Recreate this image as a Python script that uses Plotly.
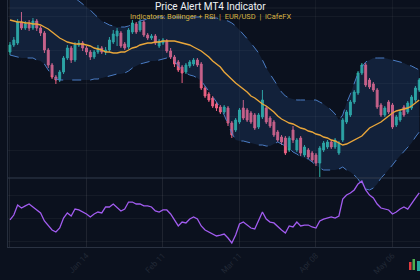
import plotly.graph_objects as go

# ---------------- data ----------------
idx = list(range(108))

open_ = [1.0994, 1.1015, 1.1021, 1.1084, 1.1066, 1.1078, 1.1066, 1.1087, 1.1066, 1.1051,
         1.1000, 1.0955, 1.0919, 1.0910, 1.0934, 1.0976, 1.1006, 1.0970, 1.1015, 1.1021,
         1.1006, 1.0994, 1.0979, 1.0994, 1.1006, 1.0994, 1.1000, 1.1024, 1.1042, 1.1051,
         1.1018, 1.1009, 1.1054, 1.1078, 1.1060, 1.1084, 1.1045, 1.1036, 1.1042, 1.1012,
         1.1021, 1.1027, 1.0997, 1.0979, 1.0964, 1.0949, 1.0934, 1.0952, 1.0958, 1.0970,
         1.0958, 1.0886, 1.0868, 1.0856, 1.0838, 1.0829, 1.0814, 1.0826, 1.0781, 1.0760,
         1.0784, 1.0826, 1.0820, 1.0811, 1.0805, 1.0769, 1.0799, 1.0826, 1.0796, 1.0784,
         1.0754, 1.0739, 1.0736, 1.0700, 1.0760, 1.0700, 1.0736, 1.0685, 1.0700, 1.0691,
         1.0685, 1.0661, 1.0700, 1.0709, 1.0724, 1.0709, 1.0691, 1.0730, 1.0784, 1.0805,
         1.0844, 1.0871, 1.0931, 1.0955, 1.0910, 1.0898, 1.0880, 1.0835, 1.0805, 1.0844,
         1.0835, 1.0775, 1.0790, 1.0829, 1.0814, 1.0826, 1.0850, 1.0880]

high = [1.1024, 1.1039, 1.1093, 1.1114, 1.1087, 1.1090, 1.1096, 1.1093, 1.1072, 1.1057,
        1.1006, 1.0961, 1.0925, 1.0940, 1.0982, 1.1015, 1.1012, 1.1024, 1.1030, 1.1027,
        1.1012, 1.1000, 1.1000, 1.1015, 1.1012, 1.1009, 1.1039, 1.1060, 1.1066, 1.1057,
        1.1024, 1.1066, 1.1090, 1.1084, 1.1093, 1.1090, 1.1051, 1.1048, 1.1048, 1.1033,
        1.1036, 1.1033, 1.1006, 1.0985, 1.0970, 1.0955, 1.0961, 1.0970, 1.0976, 1.0976,
        1.0964, 1.0892, 1.0874, 1.0862, 1.0844, 1.0835, 1.0835, 1.0832, 1.0787, 1.0796,
        1.0826, 1.0850, 1.0826, 1.0817, 1.0811, 1.0811, 1.0880, 1.0832, 1.0802, 1.0790,
        1.0760, 1.0745, 1.0742, 1.0742, 1.0772, 1.0736, 1.0742, 1.0715, 1.0706, 1.0697,
        1.0691, 1.0712, 1.0727, 1.0730, 1.0730, 1.0736, 1.0727, 1.0796, 1.0820, 1.0850,
        1.0880, 1.0937, 1.0961, 1.0961, 1.0916, 1.0904, 1.0886, 1.0841, 1.0832, 1.0850,
        1.0841, 1.0805, 1.0820, 1.0835, 1.0847, 1.0865, 1.0892, 1.0916]

low = [1.0985, 1.1009, 1.1015, 1.1060, 1.1060, 1.1057, 1.1060, 1.1057, 1.1042, 1.0991,
       1.0946, 1.0913, 1.0898, 1.0904, 1.0928, 1.0970, 1.0961, 1.0964, 1.1009, 1.0997,
       1.0985, 1.0970, 1.0973, 1.0988, 1.0988, 1.0985, 1.0994, 1.1018, 1.1012, 1.1006,
       1.1000, 1.1003, 1.1048, 1.1048, 1.1054, 1.1039, 1.1030, 1.1030, 1.1015, 1.1006,
       1.1015, 1.0991, 1.0973, 1.0949, 1.0934, 1.0901, 1.0928, 1.0946, 1.0952, 1.0949,
       1.0880, 1.0856, 1.0844, 1.0826, 1.0817, 1.0808, 1.0808, 1.0772, 1.0736, 1.0754,
       1.0778, 1.0790, 1.0784, 1.0778, 1.0760, 1.0763, 1.0793, 1.0778, 1.0766, 1.0739,
       1.0724, 1.0715, 1.0685, 1.0694, 1.0721, 1.0694, 1.0682, 1.0679, 1.0673, 1.0664,
       1.0652, 1.0619, 1.0694, 1.0703, 1.0703, 1.0703, 1.0685, 1.0724, 1.0778, 1.0799,
       1.0838, 1.0865, 1.0925, 1.0889, 1.0883, 1.0874, 1.0823, 1.0799, 1.0799, 1.0808,
       1.0763, 1.0769, 1.0784, 1.0799, 1.0808, 1.0820, 1.0844, 1.0874]

close = [1.1015, 1.1030, 1.1084, 1.1066, 1.1078, 1.1066, 1.1087, 1.1066, 1.1051, 1.1000,
         1.0955, 1.0919, 1.0910, 1.0934, 1.0976, 1.1006, 1.0970, 1.1015, 1.1021, 1.1006,
         1.0994, 1.0979, 1.0994, 1.1006, 1.0994, 1.1000, 1.1030, 1.1048, 1.1057, 1.1012,
         1.1006, 1.1060, 1.1081, 1.1054, 1.1084, 1.1045, 1.1036, 1.1042, 1.1021, 1.1027,
         1.1030, 1.0997, 1.0979, 1.0958, 1.0940, 1.0931, 1.0955, 1.0964, 1.0970, 1.0955,
         1.0886, 1.0862, 1.0850, 1.0832, 1.0826, 1.0814, 1.0829, 1.0781, 1.0745, 1.0790,
         1.0820, 1.0796, 1.0790, 1.0784, 1.0766, 1.0805, 1.0850, 1.0784, 1.0772, 1.0745,
         1.0730, 1.0724, 1.0691, 1.0736, 1.0730, 1.0730, 1.0691, 1.0709, 1.0679, 1.0670,
         1.0661, 1.0706, 1.0721, 1.0724, 1.0709, 1.0730, 1.0721, 1.0790, 1.0814, 1.0844,
         1.0874, 1.0931, 1.0955, 1.0895, 1.0889, 1.0880, 1.0829, 1.0805, 1.0826, 1.0814,
         1.0769, 1.0799, 1.0814, 1.0805, 1.0841, 1.0859, 1.0886, 1.0910]

bb_mid = [1.1090, 1.1087, 1.1084, 1.1084, 1.1081, 1.1081, 1.1078, 1.1078, 1.1075, 1.1069,
          1.1063, 1.1054, 1.1045, 1.1036, 1.1030, 1.1024, 1.1021, 1.1018, 1.1018, 1.1018,
          1.1015, 1.1012, 1.1006, 1.1003, 1.1000, 1.0994, 1.0994, 1.0991, 1.0991, 1.0994,
          1.0994, 1.1000, 1.1006, 1.1009, 1.1015, 1.1018, 1.1021, 1.1021, 1.1024, 1.1024,
          1.1027, 1.1027, 1.1027, 1.1027, 1.1024, 1.1021, 1.1018, 1.1015, 1.1009, 1.1003,
          1.0997, 1.0988, 1.0979, 1.0967, 1.0958, 1.0949, 1.0934, 1.0922, 1.0913, 1.0901,
          1.0892, 1.0883, 1.0874, 1.0862, 1.0856, 1.0847, 1.0838, 1.0832, 1.0823, 1.0814,
          1.0802, 1.0793, 1.0787, 1.0781, 1.0778, 1.0772, 1.0766, 1.0763, 1.0757, 1.0754,
          1.0748, 1.0745, 1.0739, 1.0736, 1.0730, 1.0727, 1.0721, 1.0715, 1.0718, 1.0724,
          1.0730, 1.0736, 1.0742, 1.0754, 1.0766, 1.0772, 1.0778, 1.0784, 1.0793, 1.0802,
          1.0811, 1.0817, 1.0820, 1.0823, 1.0826, 1.0832, 1.0841, 1.0850]

bb_upper = [1.1210, 1.1210, 1.1213, 1.1213, 1.1216, 1.1216, 1.1216, 1.1213, 1.1210, 1.1207,
            1.1204, 1.1198, 1.1189, 1.1183, 1.1177, 1.1171, 1.1162, 1.1156, 1.1147, 1.1138,
            1.1129, 1.1120, 1.1108, 1.1096, 1.1087, 1.1081, 1.1075, 1.1072, 1.1069, 1.1069,
            1.1069, 1.1072, 1.1078, 1.1081, 1.1087, 1.1090, 1.1093, 1.1096, 1.1099, 1.1099,
            1.1099, 1.1099, 1.1099, 1.1099, 1.1099, 1.1099, 1.1099, 1.1099, 1.1099, 1.1099,
            1.1099, 1.1099, 1.1099, 1.1096, 1.1096, 1.1093, 1.1090, 1.1087, 1.1081, 1.1072,
            1.1060, 1.1048, 1.1036, 1.1021, 1.1006, 1.0991, 1.0970, 1.0946, 1.0928, 1.0910,
            1.0889, 1.0874, 1.0862, 1.0856, 1.0853, 1.0850, 1.0850, 1.0850, 1.0850, 1.0850,
            1.0850, 1.0844, 1.0838, 1.0829, 1.0820, 1.0808, 1.0790, 1.0805, 1.0841, 1.0868,
            1.0901, 1.0931, 1.0949, 1.0964, 1.0970, 1.0976, 1.0976, 1.0976, 1.0976, 1.0973,
            1.0970, 1.0967, 1.0964, 1.0961, 1.0955, 1.0952, 1.0946, 1.0940]

bb_lower = [1.0985, 1.0982, 1.0979, 1.0976, 1.0976, 1.0976, 1.0976, 1.0970, 1.0967, 1.0958,
            1.0940, 1.0922, 1.0913, 1.0910, 1.0910, 1.0910, 1.0910, 1.0910, 1.0910, 1.0910,
            1.0910, 1.0910, 1.0913, 1.0913, 1.0916, 1.0919, 1.0922, 1.0925, 1.0928, 1.0928,
            1.0931, 1.0937, 1.0946, 1.0952, 1.0958, 1.0961, 1.0964, 1.0967, 1.0967, 1.0970,
            1.0973, 1.0976, 1.0976, 1.0967, 1.0952, 1.0940, 1.0931, 1.0925, 1.0922, 1.0916,
            1.0907, 1.0892, 1.0877, 1.0862, 1.0844, 1.0826, 1.0805, 1.0778, 1.0751, 1.0730,
            1.0727, 1.0727, 1.0724, 1.0721, 1.0718, 1.0715, 1.0715, 1.0712, 1.0712, 1.0718,
            1.0724, 1.0718, 1.0712, 1.0706, 1.0694, 1.0688, 1.0679, 1.0676, 1.0673, 1.0664,
            1.0655, 1.0646, 1.0640, 1.0640, 1.0640, 1.0640, 1.0643, 1.0649, 1.0640, 1.0634,
            1.0625, 1.0613, 1.0595, 1.0583, 1.0580, 1.0586, 1.0598, 1.0616, 1.0628, 1.0640,
            1.0655, 1.0670, 1.0682, 1.0697, 1.0709, 1.0721, 1.0739, 1.0754]

rsi = [48.5, 52.8, 61.5, 58.9, 60.7, 62.4, 59.8, 57.2, 54.6, 47.6,
       43.3, 39.8, 38.0, 41.5, 50.2, 54.6, 52.0, 58.0, 57.2, 55.4,
       53.7, 51.1, 53.7, 55.4, 54.6, 59.8, 59.8, 62.4, 58.9, 56.3,
       58.0, 64.1, 64.1, 62.4, 62.4, 60.7, 60.7, 59.8, 56.3, 55.4,
       57.2, 57.2, 53.7, 48.5, 43.3, 46.7, 45.9, 49.3, 51.1, 49.3,
       43.3, 39.8, 38.0, 36.3, 34.6, 35.4, 36.3, 32.8, 28.5, 35.4,
       45.0, 46.7, 44.1, 41.5, 40.7, 48.5, 55.4, 49.3, 46.7, 45.9,
       42.4, 39.8, 37.2, 43.3, 42.4, 46.7, 43.3, 44.1, 44.1, 42.4,
       41.5, 47.6, 49.3, 50.2, 51.1, 50.2, 52.0, 66.7, 70.2, 72.0,
       74.6, 79.8, 82.4, 74.6, 70.2, 67.6, 62.4, 58.9, 58.0, 57.2,
       53.7, 55.4, 58.0, 59.8, 58.0, 63.3, 67.6, 72.0]

tick_pos = [0, 20, 40, 60, 80, 100]
tick_labels = ["Dec 17", "Jan 14", "Feb 11", "Mar 11", "Apr 08", "May 06"]
price_ticks = [1.07, 1.08, 1.09, 1.10, 1.11]
rsi_ticks = [30, 50, 70]

title_text = "Price Alert MT4 Indicator"
subtitle_text = "Indicators: Bollinger + RSI  |  EUR/USD  |  iCafeFX"

# ---------------- figure ----------------
BAND = "#4a7cc4"
fig = go.Figure()

fig.add_trace(go.Scatter(x=idx, y=bb_upper, mode="lines", showlegend=False,
                         line=dict(color=BAND, width=1, dash="dash"), hoverinfo="skip"))
fig.add_trace(go.Scatter(x=idx, y=bb_lower, mode="lines", showlegend=False,
                         line=dict(color=BAND, width=1, dash="dash"),
                         fill="tonexty", fillcolor="rgba(52,100,170,0.2)", hoverinfo="skip"))
fig.add_trace(go.Scatter(x=idx, y=bb_mid, mode="lines", showlegend=False,
                         line=dict(color="#e9a63a", width=1.4), hoverinfo="skip"))
fig.add_trace(go.Candlestick(x=idx, open=open_, high=high, low=low, close=close,
                             name="EUR/USD", showlegend=False,
                             increasing=dict(line=dict(color="#2cb3a4", width=1), fillcolor="#2cb3a4"),
                             decreasing=dict(line=dict(color="#ec6283", width=1), fillcolor="#ec6283"),
                             whiskerwidth=0))
fig.add_trace(go.Scatter(x=idx, y=rsi, mode="lines", yaxis="y2", showlegend=False,
                         line=dict(color="#a25cf0", width=1.3), hoverinfo="skip"))

px_x = lambda p: (p - 8) / 412
px_y = lambda p: (247 - p) / 247

fig.update_layout(
    width=420, height=280,
    margin=dict(l=8, r=0, t=0, b=33),
    paper_bgcolor="#0b111e",
    plot_bgcolor="rgba(0,0,0,0)",
    font=dict(family="Roboto, sans-serif", color="#cfd6e0"),
    showlegend=False,
    xaxis=dict(range=[-0.52, 107.2], tickmode="array", tickvals=tick_pos, ticktext=tick_labels,
               tickangle=-45, tickfont=dict(size=8, color="#222936"),
               showgrid=True, gridcolor="rgba(255,255,255,0.045)", zeroline=False,
               showline=True, linecolor="#2a3242", linewidth=1,
               rangeslider=dict(visible=False), automargin=False, fixedrange=True),
    yaxis=dict(domain=[0, 1], range=[1.0409, 1.1150], tickmode="array", tickvals=price_ticks,
               showticklabels=False,
               showgrid=True, gridcolor="rgba(255,255,255,0.045)", zeroline=False,
               showline=True, linecolor="#262e3d", linewidth=1, automargin=False),
    yaxis2=dict(domain=[0, 69 / 247], range=[25, 85], anchor="x", tickmode="array",
                tickvals=rsi_ticks, showticklabels=False,
                showgrid=True, gridcolor="rgba(255,255,255,0.045)", zeroline=False,
                showline=False, automargin=False),
    shapes=[
        dict(type="line", xref="x domain", yref="y2 domain", x0=0, x1=1, y0=1, y1=1,
             line=dict(color="#333c4d", width=1.2)),
        dict(type="line", xref="x domain", yref="paper", x0=0, x1=1,
             y0=px_y(8), y1=px_y(8), line=dict(color="rgba(255,255,255,0.07)", width=1)),
        # small candle glyph (legend-like) at the lower right
        dict(type="rect", xref="paper", yref="paper", x0=px_x(409), x1=px_x(411.5),
             y0=px_y(270), y1=px_y(262), fillcolor="#e23a3f", line=dict(width=0)),
        dict(type="rect", xref="paper", yref="paper", x0=px_x(412.5), x1=px_x(415),
             y0=px_y(270), y1=px_y(259), fillcolor="#4fae4f", line=dict(width=0)),
        dict(type="rect", xref="paper", yref="paper", x0=px_x(417), x1=px_x(420),
             y0=px_y(271), y1=px_y(261), fillcolor="#26a69a", line=dict(width=0)),
    ],
    annotations=[
        dict(text=title_text, xref="paper", yref="paper", x=px_x(210), y=px_y(6),
             xanchor="center", yanchor="middle", showarrow=False,
             font=dict(size=10, color="#eef1f5")),
        dict(text=subtitle_text, xref="paper", yref="paper", x=px_x(210), y=px_y(16.5),
             xanchor="center", yanchor="middle", showarrow=False,
             font=dict(size=7.5, color="#d9b443")),
    ],
)

fig.write_html("out.html")
